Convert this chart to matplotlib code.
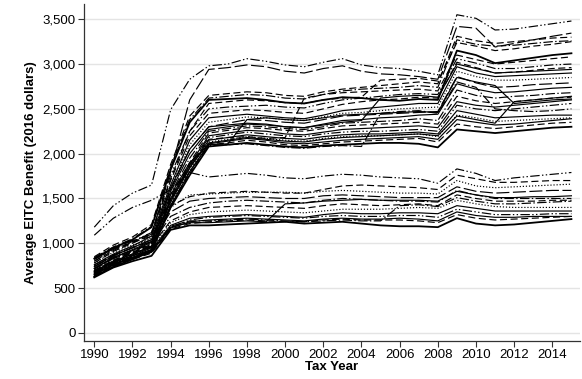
import matplotlib
matplotlib.use("Agg")
import matplotlib.pyplot as plt
import numpy as np

plt.rcParams['font.family'] = ['Liberation Sans', 'DejaVu Sans']

years = list(range(1990, 2016))
y_ticks = [0, 500, 1000, 1500, 2000, 2500, 3000, 3500]
x_ticks = list(range(1990, 2015, 2))

# ---- upper bundle ----
u01 = [1180, 1420, 1560, 1650, 2490, 2830, 2980, 3000, 3060, 3030, 2990, 2970, 3020, 3060, 2990, 2960, 2950, 2920, 2880, 3550, 3510, 3380, 3390, 3420, 3450, 3480]
u02 = [820, 940, 1030, 1100, 1800, 2600, 2940, 2960, 2990, 2970, 2920, 2900, 2950, 2980, 2920, 2890, 2880, 2860, 2830, 3420, 3400, 3190, 3230, 3270, 3310, 3345]
u03 = [850, 980, 1070, 1210, 1880, 2420, 2650, 2670, 2690, 2680, 2650, 2640, 2690, 2720, 2740, 2760, 2780, 2800, 2780, 3310, 3260, 3230, 3250, 3270, 3290, 3300]
u04 = [840, 960, 1050, 1190, 1850, 2380, 2620, 2640, 2660, 2650, 2620, 2610, 2660, 2700, 2720, 2730, 2740, 2760, 2740, 3270, 3220, 3200, 3210, 3230, 3250, 3260]
u05 = [830, 950, 1040, 1180, 1820, 2350, 2600, 2610, 2620, 2600, 2570, 2560, 2600, 2630, 2620, 2600, 2590, 2610, 2600, 3150, 3100, 3010, 3040, 3070, 3100, 3120]
u06 = [800, 930, 1020, 1120, 1760, 2250, 2500, 2520, 2530, 2540, 2520, 2510, 2560, 2600, 2620, 2640, 2660, 2670, 2660, 3060, 3010, 2950, 2950, 2970, 2990, 3000]
u07 = [780, 910, 1000, 1100, 1700, 2200, 2450, 2470, 2490, 2480, 2460, 2450, 2500, 2550, 2580, 2600, 2610, 2630, 2620, 3020, 2960, 2900, 2910, 2930, 2950, 2960]
u08 = [760, 880, 970, 1080, 1650, 2150, 2400, 2420, 2440, 2420, 2400, 2390, 2430, 2480, 2500, 2520, 2540, 2560, 2560, 2970, 2900, 2860, 2870, 2880, 2890, 2900]
u09 = [750, 870, 960, 1060, 1620, 2100, 2350, 2380, 2410, 2400, 2380, 2370, 2410, 2450, 2460, 2480, 2500, 2510, 2520, 2920, 2860, 2820, 2820, 2830, 2840, 2850]
u10 = [740, 860, 950, 1040, 1600, 2050, 2300, 2340, 2380, 2370, 2350, 2340, 2380, 2420, 2430, 2440, 2450, 2460, 2470, 2860, 2790, 2740, 2750, 2770, 2780, 2790]
u11 = [720, 840, 930, 1020, 1580, 2000, 2270, 2300, 2330, 2320, 2300, 2290, 2330, 2370, 2380, 2400, 2410, 2430, 2440, 2780, 2720, 2680, 2690, 2710, 2730, 2740]
u12 = [710, 830, 910, 1000, 1550, 1950, 2250, 2280, 2310, 2300, 2280, 2270, 2300, 2340, 2350, 2360, 2370, 2390, 2370, 2710, 2650, 2620, 2640, 2650, 2670, 2680]
u13 = [700, 810, 900, 990, 1520, 1900, 2230, 2260, 2290, 2280, 2260, 2250, 2280, 2310, 2320, 2330, 2340, 2350, 2330, 2640, 2590, 2560, 2580, 2600, 2620, 2630]
u14 = [690, 800, 880, 970, 1500, 1880, 2200, 2230, 2260, 2250, 2220, 2210, 2240, 2270, 2280, 2290, 2300, 2310, 2290, 2580, 2540, 2520, 2540, 2560, 2580, 2600]
u15 = [680, 790, 870, 960, 1480, 1860, 2180, 2210, 2240, 2220, 2200, 2190, 2220, 2240, 2250, 2250, 2260, 2270, 2250, 2540, 2500, 2480, 2500, 2520, 2540, 2560]
u16 = [670, 780, 860, 950, 1460, 1840, 2150, 2180, 2210, 2190, 2170, 2160, 2190, 2210, 2220, 2220, 2230, 2240, 2220, 2480, 2440, 2400, 2410, 2420, 2430, 2430]
u17 = [660, 770, 850, 940, 1440, 1820, 2130, 2160, 2190, 2170, 2150, 2140, 2170, 2190, 2200, 2200, 2210, 2220, 2190, 2430, 2400, 2360, 2370, 2380, 2390, 2400]
u18 = [650, 760, 840, 930, 1420, 1800, 2110, 2140, 2170, 2150, 2120, 2110, 2130, 2150, 2160, 2170, 2180, 2190, 2160, 2380, 2350, 2320, 2330, 2350, 2370, 2390]
u19 = [640, 750, 830, 920, 1400, 1780, 2100, 2120, 2150, 2130, 2100, 2090, 2110, 2130, 2140, 2150, 2160, 2170, 2130, 2330, 2300, 2280, 2300, 2320, 2340, 2350]
u20 = [630, 740, 820, 910, 1400, 1760, 2080, 2100, 2120, 2100, 2080, 2070, 2090, 2100, 2110, 2120, 2120, 2110, 2070, 2270, 2250, 2230, 2250, 2270, 2290, 2300]
u21 = [720, 840, 920, 1010, 1540, 1900, 2100, 2110, 2380, 2400, 2380, 2370, 2400, 2430, 2440, 2450, 2460, 2470, 2460, 2850, 2800, 2760, 2560, 2580, 2600, 2610]
u22 = [690, 810, 890, 980, 1500, 1870, 2160, 2180, 2190, 2170, 2180, 2620, 2660, 2680, 2690, 2700, 2710, 2720, 2700, 3100, 3050, 3000, 3020, 3040, 3060, 3080]
u23 = [740, 860, 950, 1040, 1620, 2050, 2300, 2320, 2340, 2330, 2300, 2290, 2320, 2350, 2370, 2620, 2640, 2650, 2630, 3000, 2950, 2900, 2910, 2920, 2930, 2940]
u24 = [650, 760, 840, 920, 1420, 1800, 2090, 2100, 2110, 2090, 2070, 2060, 2080, 2090, 2080, 2450, 2470, 2480, 2450, 2800, 2740, 2500, 2480, 2470, 2480, 2500]
u25 = [800, 920, 1010, 1120, 1720, 2250, 2560, 2580, 2600, 2590, 2570, 2560, 2600, 2620, 2630, 2820, 2830, 2840, 2810, 3240, 3200, 3150, 3170, 3200, 3220, 3250]
u26 = [680, 790, 880, 960, 1480, 1850, 2120, 2150, 2180, 2160, 2140, 2130, 2160, 2180, 2190, 2200, 2210, 2220, 2200, 2420, 2380, 2340, 2580, 2600, 2620, 2640]

# ---- lower bundle ----
l01 = [1090, 1280, 1400, 1480, 1600, 1790, 1740, 1760, 1780, 1760, 1730, 1720, 1750, 1770, 1760, 1740, 1730, 1720, 1670, 1830, 1780, 1700, 1730, 1750, 1770, 1790]
l02 = [820, 940, 1010, 1080, 1420, 1520, 1560, 1570, 1580, 1570, 1560, 1560, 1600, 1640, 1650, 1640, 1630, 1620, 1600, 1760, 1720, 1680, 1680, 1690, 1700, 1700]
l03 = [780, 900, 980, 1050, 1400, 1540, 1550, 1560, 1570, 1570, 1570, 1560, 1580, 1590, 1580, 1570, 1560, 1560, 1550, 1700, 1640, 1620, 1630, 1640, 1650, 1660]
l04 = [760, 870, 950, 1020, 1350, 1470, 1500, 1510, 1520, 1510, 1500, 1500, 1530, 1540, 1530, 1520, 1510, 1510, 1510, 1630, 1580, 1560, 1570, 1580, 1590, 1590]
l05 = [740, 850, 920, 990, 1300, 1400, 1450, 1470, 1480, 1470, 1460, 1450, 1480, 1500, 1490, 1480, 1470, 1470, 1460, 1590, 1540, 1500, 1500, 1500, 1500, 1500]
l06 = [720, 830, 900, 970, 1250, 1350, 1400, 1410, 1420, 1410, 1400, 1390, 1420, 1440, 1430, 1420, 1430, 1440, 1420, 1540, 1500, 1470, 1470, 1470, 1480, 1480]
l07 = [700, 810, 880, 950, 1230, 1320, 1350, 1360, 1370, 1360, 1350, 1340, 1360, 1380, 1380, 1380, 1390, 1400, 1390, 1480, 1440, 1410, 1400, 1400, 1400, 1400]
l08 = [690, 790, 860, 930, 1200, 1280, 1300, 1310, 1320, 1310, 1300, 1290, 1320, 1340, 1330, 1330, 1340, 1340, 1330, 1420, 1390, 1360, 1360, 1360, 1360, 1360]
l09 = [670, 770, 840, 920, 1180, 1260, 1290, 1300, 1310, 1300, 1290, 1280, 1300, 1310, 1300, 1300, 1310, 1310, 1290, 1380, 1350, 1320, 1320, 1320, 1330, 1330]
l10 = [650, 760, 830, 900, 1170, 1240, 1260, 1270, 1280, 1270, 1260, 1250, 1270, 1280, 1270, 1270, 1280, 1270, 1250, 1350, 1310, 1290, 1290, 1300, 1300, 1300]
l11 = [640, 750, 820, 890, 1160, 1220, 1240, 1250, 1260, 1250, 1240, 1240, 1260, 1270, 1260, 1260, 1260, 1250, 1230, 1320, 1280, 1260, 1270, 1280, 1290, 1300]
l12 = [620, 730, 800, 860, 1150, 1200, 1200, 1210, 1220, 1230, 1240, 1220, 1230, 1240, 1220, 1200, 1190, 1190, 1180, 1280, 1220, 1200, 1210, 1230, 1250, 1270]
l13 = [660, 770, 840, 910, 1180, 1230, 1230, 1240, 1250, 1240, 1440, 1450, 1470, 1480, 1490, 1480, 1480, 1480, 1470, 1580, 1540, 1510, 1510, 1520, 1520, 1530]
l14 = [680, 780, 850, 920, 1190, 1250, 1250, 1260, 1270, 1260, 1250, 1240, 1250, 1260, 1250, 1250, 1420, 1430, 1410, 1510, 1470, 1440, 1440, 1450, 1460, 1470]

series = [u01, u02, u03, u04, u05, u06, u07, u08, u09, u10, u11, u12, u13,
          u14, u15, u16, u17, u18, u19, u20, u21, u22, u23, u24, u25, u26,
          l01, l02, l03, l04, l05, l06, l07, l08, l09, l10, l11, l12, l13, l14]

# ---- styles (separate from data) ----
SOLID = '-'
DASH = (0, (6, 3))
LDASH = (0, (11, 3))
DDOT = (0, (8, 2, 1.2, 2))
DDDOT = (0, (8, 2, 1.2, 2, 1.2, 2))
DOT = (0, (1, 1.6))
style_cycle = [DDDOT, LDASH, DASH, DDOT, SOLID, DDDOT, DASH, SOLID, DOT, LDASH,
               SOLID, DDOT, DASH, SOLID, DDDOT, SOLID, DOT, SOLID, DASH, SOLID,
               SOLID, DASH, SOLID, DDOT, DASH, SOLID,
               DDDOT, DASH, DOT, LDASH, DDOT, DASH, DOT, SOLID, DDDOT, SOLID,
               DASH, SOLID, SOLID, DDOT]
width_cycle = [0.85] * len(style_cycle)
for i in (4, 19, 37):
    width_cycle[i] = 1.3

fig = plt.figure(figsize=(5.82, 3.79), dpi=100)
ax = fig.add_axes([0.1443, 0.1003, 0.8523, 0.8887])

for vals, ls, lw in zip(series, style_cycle, width_cycle):
    ax.plot(years, vals, color='black', linestyle=ls, linewidth=lw, zorder=3)

ax.set_xlim(1989.46, 2015.45)
ax.set_ylim(-90, 3668)
ax.set_yticks(y_ticks)
ax.set_yticklabels([f"{v:,}" for v in y_ticks])
ax.set_xticks(x_ticks)
ax.yaxis.grid(True, color='#e4e4e4', linewidth=1.0, zorder=0)
ax.set_axisbelow(True)

for s in ('top', 'right'):
    ax.spines[s].set_visible(False)
for s in ('left', 'bottom'):
    ax.spines[s].set_color('#333333')
    ax.spines[s].set_linewidth(0.9)
ax.tick_params(axis='both', direction='out', length=4, width=0.8, color='#333333',
               labelsize=9.5, labelcolor='black', pad=2)

ax.set_xlabel('Tax Year', fontsize=9.5, fontweight='bold', labelpad=0)
ax.set_ylabel('Average EITC Benefit (2016 dollars)', fontsize=9.5, fontweight='bold', labelpad=4)

fig.savefig('out.png', dpi=100)
